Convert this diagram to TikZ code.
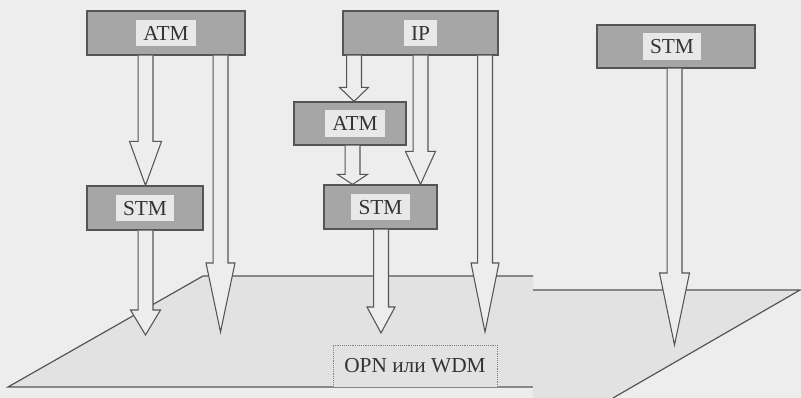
\documentclass[tikz,border=0pt]{standalone}
\usepackage{fontspec}
\setmainfont{Liberation Serif}
\usetikzlibrary{calc}
\definecolor{bg}{HTML}{EDEDED}
\definecolor{boxgray}{HTML}{A6A6A6}
\definecolor{patchgray}{HTML}{E8E8E8}
\definecolor{planegray}{HTML}{E2E2E2}
\definecolor{linecol}{HTML}{555555}
\tikzset{
  layerbox/.style={draw=linecol, line width=0.9pt, fill=boxgray, inner sep=0pt, minimum height=44*0.75pt},
  patch/.style={fill=patchgray, inner xsep=5.5pt, inner ysep=4.5pt, text height=11pt, text depth=0pt, font=\fontsize{16}{19}\selectfont, text=black!80},
  arr/.style={draw=linecol, line width=0.8pt, fill=bg, line join=miter},
  planeline/.style={draw=linecol, line width=0.9pt},
}
\newcommand\blk[4]{% #1 start, #2 tip, #3 head length px, #4 head half width px
  \draw[arr] let \p1=(#1), \p2=(#2), \n1={#3*0.75pt}, \n2={#4*0.75pt} in
    (\x2-5.6pt,\y1) -- (\x2-5.6pt,\y2+\n1) -- (\x2-\n2,\y2+\n1) -- (\x2,\y2)
    -- (\x2+\n2,\y2+\n1) -- (\x2+5.6pt,\y2+\n1) -- (\x2+5.6pt,\y1);}
\begin{document}
\begin{tikzpicture}[x=0.75pt,y=-0.75pt]
\useasboundingbox (0,0) rectangle (801,398);
\fill[bg] (0,0) rectangle (801,398);
% plane
\fill[planegray] (8,387) -- (203,276) -- (533,276) -- (533,387) -- cycle;
\draw[planeline] (533,387) -- (8,387) -- (203,276) -- (533,276);
\fill[planegray] (533,290) -- (800,290) -- (613,398) -- (533,398) -- cycle;
\draw[planeline] (533,290) -- (800,290) -- (613,398);
\node[draw=gray, densely dotted, fill=planegray, minimum width=164*0.75pt, minimum height=42*0.75pt,
      inner sep=0pt, font=\fontsize{16}{19}\selectfont, text=black!80] (opn) at (415,366) {OPN или WDM};
% boxes
\node[layerbox, minimum width=158*0.75pt] (atmA) at (166,33) {};
\node[patch] at (atmA) {ATM};
\node[layerbox, minimum width=155*0.75pt] (ip) at (420.5,33) {};
\node[patch] at (ip) {IP};
\node[layerbox, minimum width=112*0.75pt, minimum height=43*0.75pt] (atmB) at (350,123.5) {};
\node[patch] at ($(atmB)+(5,0)$) {ATM};
\node[layerbox, minimum width=116*0.75pt] (stmL) at (145,208) {};
\node[patch] at (stmL) {STM};
\node[layerbox, minimum width=113*0.75pt] (stmM) at (380.5,207) {};
\node[patch] at (stmM) {STM};
\node[layerbox, minimum width=158*0.75pt, minimum height=43*0.75pt] (stmR) at (676,46.5) {};
\node[patch] at ($(stmR)+(-4,0)$) {STM};
% arrow tips
\coordinate (t1) at ($(stmL.north)+(0.5,0)$);
\coordinate (t2) at (220.5,332);
\coordinate (t3) at (145.5,335);
\coordinate (t4) at ($(atmB.north)+(4,0)$);
\coordinate (t5) at ($(stmM.north)+(-28,0)$);
\coordinate (t6) at ($(stmM.north)+(40,0)$);
\coordinate (t7) at (485,332);
\coordinate (t8) at (381,333);
\coordinate (t9) at (674.5,345);
% arrows
\blk{atmA.south}{t1}{44}{16}
\blk{atmA.south}{t2}{69}{14.5}
\blk{stmL.south}{t3}{25}{15}
\blk{ip.south}{t4}{14}{14.5}
\blk{atmB.south}{t5}{10}{15}
\blk{ip.south}{t6}{33}{15}
\blk{ip.south}{t7}{69}{14}
\blk{stmM.south}{t8}{26}{14}
\blk{stmR.south}{t9}{72}{15}
\end{tikzpicture}
\end{document}
